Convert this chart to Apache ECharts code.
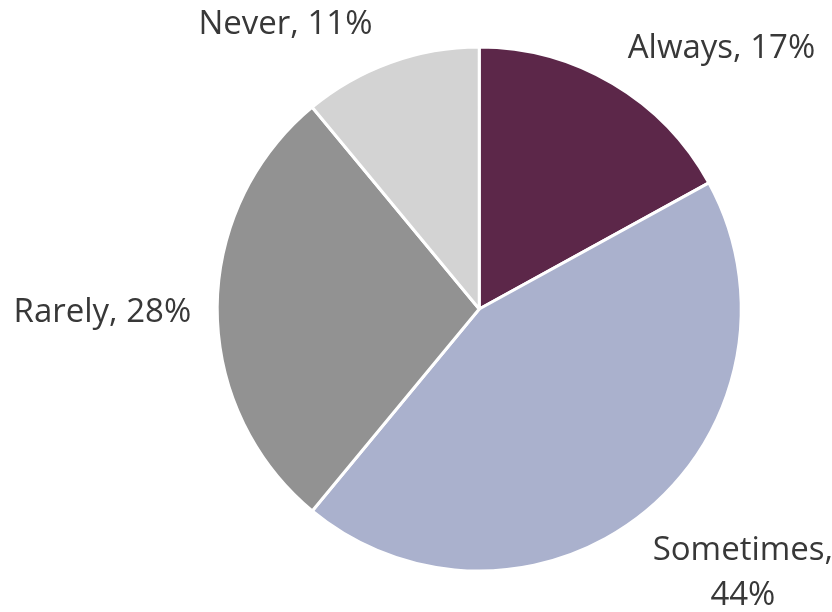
<!DOCTYPE html>
<html>
<head>
<meta charset="utf-8">
<style>
  html, body { margin: 0; padding: 0; background: #ffffff; }
  #chart { width: 832px; height: 612px; }
</style>
<script src="https://cdn.jsdelivr.net/npm/echarts@6/dist/echarts.min.js"></script>
</head>
<body>
<div id="chart"></div>
<script>
// Survey answer shares, clockwise from 12 o'clock
const categories = ['Always', 'Sometimes', 'Rarely', 'Never'];
const shares = [17, 44, 28, 11];
const sliceColors = ['#5c2749', '#aab1cd', '#929292', '#d3d3d3'];

// Per-slice nudges for the outside labels (pixels)
const labelNudge = [
  { dx: 4, dy: -25 },
  { dx: 84, dy: 53, align: 'center' },
  { dx: -9, dy: 4 },
  { dx: -9, dy: -27 }
];

const chart = echarts.init(document.getElementById('chart'), null, { renderer: 'canvas' });

const data = categories.map((name, i) => {
  const item = { name, value: shares[i], itemStyle: { color: sliceColors[i] } };
  if (name === 'Sometimes') {
    item.label = { align: 'center' };
  }
  return item;
});

chart.setOption({
  animation: false,
  backgroundColor: '#ffffff',
  series: [{
    type: 'pie',
    center: ['57.6%', '50.5%'],
    radius: 262,
    startAngle: 90,
    clockwise: true,
    avoidLabelOverlap: false,
    data,
    itemStyle: { borderColor: '#ffffff', borderWidth: 3 },
    label: {
      show: true,
      position: 'outside',
      formatter: p => p.name === 'Sometimes' ? `${p.name},\n${p.value}%` : `${p.name}, ${p.value}%`,
      fontFamily: 'Open Sans',
      fontSize: 33,
      color: '#383838',
      lineHeight: 45
    },
    labelLine: { show: false, length: 12, length2: 0 },
    labelLayout: p => labelNudge[p.dataIndex]
  }]
});
</script>
</body>
</html>
